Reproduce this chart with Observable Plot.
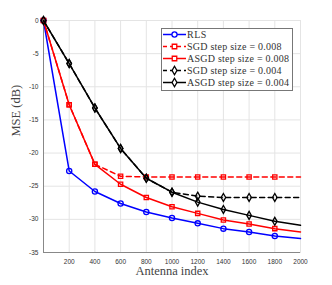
<!DOCTYPE html>
<html><head><meta charset="utf-8">
<script src="https://cdn.jsdelivr.net/npm/d3@7"></script>
<script src="https://cdn.jsdelivr.net/npm/@observablehq/plot@0.6"></script>
<style>
body{margin:0;background:#fff}
#wrap{position:relative;width:332px;height:285px}
#legend{position:absolute;left:0;top:0}
</style>
</head><body><div id="wrap"></div>
<script>
const antenna = [0,200,400,600,800,1000,1200,1400,1600,1800,2000];
const rls     = [0,-22.7,-25.8,-27.6,-28.9,-29.8,-30.6,-31.4,-31.9,-32.5,-32.9];
const sgd008  = [0,-12.7,-21.7,-23.5,-23.6,-23.6,-23.6,-23.6,-23.6,-23.6,-23.6];
const asgd008 = [0,-12.7,-21.7,-24.7,-26.7,-28.1,-29.1,-30.1,-30.7,-31.4,-31.9];
const sgd004  = [0,-6.5,-13.2,-19.3,-23.8,-25.9,-26.5,-26.7,-26.7,-26.7,-26.7];
const asgd004 = [0,-6.5,-13.2,-19.3,-23.8,-25.9,-27.4,-28.5,-29.4,-30.3,-30.9];
const seriesNames = ["RLS","SGD step size = 0.008","ASGD step size = 0.008","SGD step size = 0.004","ASGD step size = 0.004"];
const seriesValues = [rls, sgd008, asgd008, sgd004, asgd004];
const seriesColors = ["#0000ff","#ff0000","#ff0000","#000000","#000000"];
const seriesDash = [null,"5,3.5",null,"5,3.5",null];
const seriesSymbol = ["circle","square","square","diamond","diamond"];
const markerMaxX = 1800;
const xTicks = [200,400,600,800,1000,1200,1400,1600,1800,2000];
const yTicks = [0,-5,-10,-15,-20,-25,-30,-35];

const rows = [];
seriesValues.forEach((vals, i) => vals.forEach((v, j) => rows.push({s: i, x: antenna[j], y: v})));

const gridColor = "#e4e4e4";
const tickFont = "Liberation Sans";
const serif = "Liberation Serif";

const marks = [
  Plot.frame({stroke: gridColor}),
  Plot.gridX(xTicks, {stroke: gridColor, strokeOpacity: 1}),
  Plot.gridY(yTicks, {stroke: gridColor, strokeOpacity: 1}),
  Plot.axisX(xTicks, {tickSize: 0, tickPadding: 7, label: null, fontSize: 6.5, fontFamily: tickFont, fill: "#333", tickFormat: d => String(d)}),
  Plot.axisY(yTicks, {tickSize: 0, tickPadding: 5, label: null, fontSize: 6.5, fontFamily: tickFont, fill: "#333", tickFormat: d => String(d)}),
  Plot.ruleX([0], {stroke: "#888", strokeWidth: 1}),
  Plot.ruleY([-35], {stroke: "#888", strokeWidth: 1}),
  Plot.text(["MSE (dB)"], {text: d => d, frameAnchor: "left", dx: -28, rotate: -90, fontFamily: serif, fontSize: 12.5, fill: "#444"}),
  Plot.text(["Antenna index"], {text: d => d, frameAnchor: "bottom", dy: 22.5, fontFamily: serif, fontSize: 12.5, fill: "#444"})
];
seriesValues.forEach((vals, i) => {
  const d = rows.filter(r => r.s === i);
  marks.push(Plot.line(d, {x: "x", y: "y", stroke: seriesColors[i], strokeWidth: 1.5, strokeDasharray: seriesDash[i]}));
  marks.push(Plot.dot(d.filter(r => r.x <= markerMaxX), {x: "x", y: "y", symbol: seriesSymbol[i], r: seriesSymbol[i] === "circle" ? 2.6 : 2.4, stroke: seriesColors[i], fill: "none", strokeWidth: 1.3}));
});

const chart = Plot.plot({
  width: 332, height: 285,
  marginLeft: 43, marginRight: 32, marginTop: 20, marginBottom: 33,
  x: {domain: [0, 2000]},
  y: {domain: [-35, 0]},
  style: {background: "#fff"},
  marks
});
const wrap = document.getElementById("wrap");
wrap.appendChild(chart);

// legend overlay
const lg = d3.select(wrap).append("svg").attr("id", "legend").attr("width", 332).attr("height", 285);
const L = {x: 161, y: 28, w: 131, h: 62, rowY0: 34.5, rowStep: 12, textW: 102};
lg.append("rect").attr("x", L.x + 0.5).attr("y", L.y + 0.5).attr("width", L.w).attr("height", L.h)
  .attr("fill", "#fff").attr("stroke", "#777").attr("stroke-width", 1);
const texts = [];
seriesNames.forEach((name, i) => {
  const y = L.rowY0 + i * L.rowStep;
  lg.append("line").attr("x1", L.x + 2).attr("x2", L.x + 25).attr("y1", y).attr("y2", y)
    .attr("stroke", seriesColors[i]).attr("stroke-width", 1.5)
    .attr("stroke-dasharray", seriesDash[i] ? "4,3" : null);
  const sym = {circle: d3.symbolCircle, square: d3.symbolSquare, diamond: d3.symbolDiamond}[seriesSymbol[i]];
  lg.append("path").attr("d", d3.symbol(sym, Math.PI * 6.5)()).attr("transform", `translate(${L.x + 13.5},${y})`)
    .attr("fill", "#fff").attr("stroke", seriesColors[i]).attr("stroke-width", 1.3);
  texts.push(lg.append("text").attr("x", L.x + 26).attr("y", y).attr("dy", "0.35em")
    .attr("font-family", serif).attr("font-size", 10).attr("fill", "#333").text(name));
});
// fit legend labels to the box width
const lens = texts.map(t => t.node().getComputedTextLength());
const k = L.textW / d3.max(lens);
texts.forEach((t, i) => t.attr("textLength", (lens[i] * k).toFixed(1)).attr("lengthAdjust", "spacing"));
</script>
</body></html>
